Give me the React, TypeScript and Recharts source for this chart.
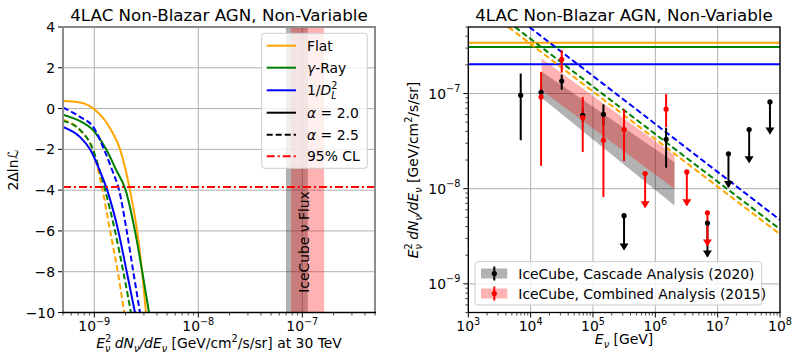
import {
  ComposedChart,
  Line,
  Area,
  Scatter,
  ErrorBar,
  XAxis,
  YAxis,
  CartesianGrid,
  ReferenceArea,
  ReferenceLine,
} from "recharts";

const FONT = "'DejaVu Sans', sans-serif";
const ORANGE = "#ffa500";
const GREEN = "#008000";
const BLUE = "#0000ff";
const RED = "#ff0000";
const FS = 13.9;
const FS_SMALL = 9.7;

// ---- left panel: 2ΔlnL vs E²dN/dE at 30 TeV ----
// [flux, 2ΔlnL]
const flatA20 = [[5e-10, 0.37], [7.3e-10, 0.3], [9.8e-10, 0], [1.43e-9, -1], [1.77e-9, -2], [2.0e-9, -3], [2.2e-9, -4], [2.58e-9, -6], [2.88e-9, -8], [3.14e-9, -10]];
const flatA25 = [[5e-10, -0.55], [7.3e-10, -1.07], [9.6e-10, -2], [1.085e-9, -3], [1.2e-9, -4], [1.42e-9, -6], [1.68e-9, -8], [1.94e-9, -10]];
const gammaA20 = [[5e-10, -0.3], [7.3e-10, -0.62], [9.5e-10, -1], [1.3e-9, -2], [1.62e-9, -3], [2.0e-9, -4], [2.46e-9, -6], [2.89e-9, -8], [3.36e-9, -10]];
const gammaA25 = [[5e-10, -0.61], [7.3e-10, -1.05], [9.7e-10, -2], [1.12e-9, -3], [1.27e-9, -4], [1.58e-9, -6], [1.9e-9, -8], [2.25e-9, -10]];
const dlA20 = [[5e-10, -0.9], [7.3e-10, -1.4], [9.1e-10, -2], [1.12e-9, -3], [1.33e-9, -4], [1.7e-9, -6], [2.05e-9, -8], [2.46e-9, -10]];
const dlA25 = [[5e-10, 0.05], [7.3e-10, -0.41], [1.0e-9, -0.98], [1.24e-9, -2], [1.48e-9, -3], [1.73e-9, -4], [2.05e-9, -6], [2.37e-9, -8], [2.75e-9, -10]];
const cascadeAt30 = [6.97e-8, 1.13e-7];
const combinedAt30 = [7.8e-8, 1.62e-7];
const CL95 = -3.84;
const leftYTicks = [-10, -8, -6, -4, -2, 0, 2, 4];

// ---- right panel: spectrum ----
const flatConst = 3.41e-7;
const gammaConst = 3.09e-7;
const dlConst = 2.03e-7;
const flatSoft = [[4.4e3, 5e-7], [1e8, 3.32e-9]];
const gammaSoft = [[5.6e3, 5e-7], [1e8, 3.75e-9]];
const dlSoft = [[9.5e3, 5e-7], [1e8, 4.7e-9]];

const cascadeE = [6.93e3, 1.47e4, 3.15e4, 6.85e4, 1.47e5, 1.49e6];
const cascadeVal = [9.6e-8, 1.03e-7, 1.35e-7, 5.91e-8, 6.05e-8, 3.3e-8];
const cascadeLo = [3.23e-8, 8.8e-8, 1.1e-7, 5.0e-8, 4.6e-8, 1.66e-8];
const cascadeHi = [1.62e-7, 1.2e-7, 1.58e-7, 7.0e-8, 7.7e-8, 4.38e-8];
const cascadeUlE = [3.15e5, 6.86e6, 1.49e7, 3.2e7, 6.9e7];
const cascadeUl = [5.2e-9, 4.35e-9, 2.33e-8, 4.18e-8, 8.16e-8];
const cascadeUlTip = [2.3e-9, 1.94e-9, 1.04e-8, 1.9e-8, 3.79e-8];

const combinedE = [1.47e4, 3.15e4, 6.85e4, 1.47e5, 3.15e5, 1.49e6];
const combinedVal = [9.2e-8, 2.28e-7, 5.58e-8, 3.22e-8, 4.21e-8, 6.84e-8];
const combinedLo = [1.74e-8, 1.66e-7, 2.43e-8, 8.17e-9, 1.95e-8, 4.45e-8];
const combinedHi = [1.69e-7, 2.86e-7, 9.2e-8, 5.9e-8, 6.84e-8, 9.84e-8];
const combinedUlE = [6.86e5, 3.2e6, 6.86e6];
const combinedUl = [1.44e-8, 1.5e-8, 5.58e-9];
const combinedUlTip = [6.4e-9, 6.7e-9, 2.53e-9];

const bandE = [1.5e4, 2.03e6];
const cascadeBandLo = [9.0e-8, 6.67e-9];
const cascadeBandHi = [1.69e-7, 1.9e-8];
const combinedBandLo = [1.08e-7, 1.0e-8];
const combinedBandHi = [2.33e-7, 2.24e-8];

const toXY = (pts: number[][]) => pts.map(([x, y]) => ({ x, y }));
const points = (e: number[], v: number[], lo: number[], hi: number[]) =>
  e.map((x, i) => ({ x, y: v[i], err: [v[i] - lo[i], hi[i] - v[i]] }));
const limits = (e: number[], v: number[], tip: number[]) =>
  e.map((x, i) => ({ x, y: v[i], err: [v[i] - tip[i], 0] }));
const tips = (e: number[], tip: number[]) => e.map((x, i) => ({ x, y: tip[i] }));
const band = (lo: number[], hi: number[]) => bandE.map((x, i) => ({ x, band: [lo[i], hi[i]] }));

const logTicks = (lo: number, hi: number) => {
  const out: number[] = [];
  for (let e = Math.floor(Math.log10(lo)); e <= Math.ceil(Math.log10(hi)); e++)
    for (let m = 1; m < 10; m++) {
      const v = +(m * Math.pow(10, e)).toPrecision(6);
      if (v >= lo * 0.999 && v <= hi * 1.001) out.push(v);
    }
  return out;
};
const isDecade = (v: number) => Math.abs(Math.log10(v) - Math.round(Math.log10(v))) < 1e-6;
const minus = (n: number) => (n < 0 ? "\u2212" + -n : String(n));

const LogXTick = (p: any) => {
  const { x, y, payload } = p;
  const v = payload.value;
  const major = isDecade(v);
  return (
    <g>
      <line x1={x} x2={x} y1={y} y2={y + (major ? 5 : 3)} stroke="#000" strokeWidth={major ? 1 : 0.7} />
      {major && (
        <text x={x} y={y + 18} textAnchor="middle" fontSize={FS} fontFamily={FONT} fill="#000">
          10<tspan dy={-6} fontSize={FS_SMALL}>{minus(Math.round(Math.log10(v)))}</tspan>
        </text>
      )}
    </g>
  );
};

const LogYTick = (p: any) => {
  const { x, y, payload } = p;
  const v = payload.value;
  const major = isDecade(v);
  return (
    <g>
      <line x1={x - (major ? 5 : 3)} x2={x} y1={y} y2={y} stroke="#000" strokeWidth={major ? 1 : 0.7} />
      {major && (
        <text x={x - 8} y={y + 5} textAnchor="end" fontSize={FS} fontFamily={FONT} fill="#000">
          10<tspan dy={-6.5} fontSize={FS_SMALL}>{minus(Math.round(Math.log10(v)))}</tspan>
        </text>
      )}
    </g>
  );
};

const LinYTick = (p: any) => {
  const { x, y, payload } = p;
  return (
    <g>
      <line x1={x - 5} x2={x} y1={y} y2={y} stroke="#000" />
      <text x={x - 8} y={y + 5} textAnchor="end" fontSize={FS} fontFamily={FONT} fill="#000">
        {minus(payload.value)}
      </text>
    </g>
  );
};

const dot = (color: string) => (p: any) => <circle cx={p.cx} cy={p.cy} r={2.6} fill={color} />;
const arrow = (color: string) => (p: any) => (
  <path d={`M${p.cx - 4.5},${p.cy - 6}L${p.cx + 4.5},${p.cy - 6}L${p.cx},${p.cy + 1}Z`} fill={color} />
);

const axisCommon = {
  tickLine: false,
  axisLine: false,
  tickSize: 0,
  tickMargin: 0,
  interval: 0 as const,
  allowDataOverflow: true,
};

const LeftChart = () => (
  <ComposedChart width={400} height={358} margin={{ top: 27, right: 25, bottom: 5.5, left: 13 }}>
    <CartesianGrid stroke="#b0b0b0" strokeWidth={1} verticalValues={[1e-9, 1e-8, 1e-7]} horizontalValues={leftYTicks} />
    <XAxis dataKey="x" type="number" scale="log" domain={[5e-10, 5e-7]} ticks={logTicks(5e-10, 5e-7)} tick={LogXTick} height={40} {...axisCommon} />
    <YAxis dataKey="y" type="number" domain={[-10, 4]} ticks={leftYTicks} tick={LinYTick} width={50} {...axisCommon} />
    <ReferenceArea x1={cascadeAt30[0]} x2={cascadeAt30[1]} fill="#000" fillOpacity={0.3} stroke="none" />
    <ReferenceArea x1={combinedAt30[0]} x2={combinedAt30[1]} fill={RED} fillOpacity={0.3} stroke="none" />
    <Line data={toXY(flatA20)} dataKey="y" type="monotone" stroke={ORANGE} strokeWidth={2} dot={false} isAnimationActive={false} />
    <Line data={toXY(flatA25)} dataKey="y" type="monotone" stroke={ORANGE} strokeWidth={2} strokeDasharray="6 3" dot={false} isAnimationActive={false} />
    <Line data={toXY(gammaA20)} dataKey="y" type="monotone" stroke={GREEN} strokeWidth={2} dot={false} isAnimationActive={false} />
    <Line data={toXY(gammaA25)} dataKey="y" type="monotone" stroke={GREEN} strokeWidth={2} strokeDasharray="6 3" dot={false} isAnimationActive={false} />
    <Line data={toXY(dlA20)} dataKey="y" type="monotone" stroke={BLUE} strokeWidth={2} dot={false} isAnimationActive={false} />
    <Line data={toXY(dlA25)} dataKey="y" type="monotone" stroke={BLUE} strokeWidth={2} strokeDasharray="6 3" dot={false} isAnimationActive={false} />
    <ReferenceLine y={CL95} stroke={RED} strokeWidth={2} strokeDasharray="8 3 2 3" />
  </ComposedChart>
);

const RightChart = () => (
  <ComposedChart width={401} height={358} margin={{ top: 27, right: 21, bottom: 5.5, left: 13.3 }}>
    <CartesianGrid stroke="#b0b0b0" strokeWidth={1} verticalValues={[1e3, 1e4, 1e5, 1e6, 1e7, 1e8]} horizontalValues={[1e-9, 1e-8, 1e-7]} />
    <XAxis dataKey="x" type="number" scale="log" domain={[1e3, 1e8]} ticks={logTicks(1e3, 1e8)} tick={LogXTick} height={40} {...axisCommon} />
    <YAxis dataKey="y" type="number" scale="log" domain={[5e-10, 5e-7]} ticks={logTicks(5e-10, 5e-7)} tick={LogYTick} width={55} {...axisCommon} />
    <Area data={band(cascadeBandLo, cascadeBandHi)} dataKey="band" type="linear" stroke="none" fill="#000" fillOpacity={0.3} isAnimationActive={false} />
    <Area data={band(combinedBandLo, combinedBandHi)} dataKey="band" type="linear" stroke="none" fill={RED} fillOpacity={0.3} isAnimationActive={false} />
    <Line data={toXY([[1e3, flatConst], [1e8, flatConst]])} dataKey="y" type="linear" stroke={ORANGE} strokeWidth={2} dot={false} isAnimationActive={false} />
    <Line data={toXY([[1e3, gammaConst], [1e8, gammaConst]])} dataKey="y" type="linear" stroke={GREEN} strokeWidth={2} dot={false} isAnimationActive={false} />
    <Line data={toXY([[1e3, dlConst], [1e8, dlConst]])} dataKey="y" type="linear" stroke={BLUE} strokeWidth={2} dot={false} isAnimationActive={false} />
    <Line data={toXY(flatSoft)} dataKey="y" type="linear" stroke={ORANGE} strokeWidth={2} strokeDasharray="6 3" dot={false} isAnimationActive={false} />
    <Line data={toXY(gammaSoft)} dataKey="y" type="linear" stroke={GREEN} strokeWidth={2} strokeDasharray="6 3" dot={false} isAnimationActive={false} />
    <Line data={toXY(dlSoft)} dataKey="y" type="linear" stroke={BLUE} strokeWidth={2} strokeDasharray="6 3" dot={false} isAnimationActive={false} />
    <Scatter data={points(cascadeE, cascadeVal, cascadeLo, cascadeHi)} shape={dot("#000")} isAnimationActive={false}>
      <ErrorBar dataKey="err" direction="y" width={0} stroke="#000" strokeWidth={2} />
    </Scatter>
    <Scatter data={limits(cascadeUlE, cascadeUl, cascadeUlTip)} shape={dot("#000")} isAnimationActive={false}>
      <ErrorBar dataKey="err" direction="y" width={0} stroke="#000" strokeWidth={2} />
    </Scatter>
    <Scatter data={tips(cascadeUlE, cascadeUlTip)} shape={arrow("#000")} isAnimationActive={false} />
    <Scatter data={points(combinedE, combinedVal, combinedLo, combinedHi)} shape={dot(RED)} isAnimationActive={false}>
      <ErrorBar dataKey="err" direction="y" width={0} stroke={RED} strokeWidth={2} />
    </Scatter>
    <Scatter data={limits(combinedUlE, combinedUl, combinedUlTip)} shape={dot(RED)} isAnimationActive={false}>
      <ErrorBar dataKey="err" direction="y" width={0} stroke={RED} strokeWidth={2} />
    </Scatter>
    <Scatter data={tips(combinedUlE, combinedUlTip)} shape={arrow(RED)} isAnimationActive={false} />
  </ComposedChart>
);

// E_ν² dN_ν/dE_ν [GeV/cm²/s/sr]
const FluxLabel = () => (
  <>
    <tspan fontStyle="italic">E</tspan>
    <tspan dy={-6} fontSize={FS_SMALL}>2</tspan>
    <tspan dx={-6.2} dy={10} fontSize={FS_SMALL} fontStyle="italic">ν</tspan>
    <tspan dy={-4} fontStyle="italic"> dN</tspan>
    <tspan dy={4} fontSize={FS_SMALL} fontStyle="italic">ν</tspan>
    <tspan dy={-4} fontStyle="italic">/dE</tspan>
    <tspan dy={4} fontSize={FS_SMALL} fontStyle="italic">ν</tspan>
    <tspan dy={-4}> [GeV/cm</tspan>
    <tspan dy={-6} fontSize={FS_SMALL}>2</tspan>
    <tspan dy={6}>/s/sr]</tspan>
  </>
);

const leftLegend = [
  { c: ORANGE, d: undefined, label: <tspan>Flat</tspan> },
  { c: GREEN, d: undefined, label: <><tspan fontStyle="italic">γ</tspan><tspan>-Ray</tspan></> },
  {
    c: BLUE,
    d: undefined,
    label: (
      <>
        <tspan>1/</tspan>
        <tspan fontStyle="italic">D</tspan>
        <tspan dy={-6} fontSize={FS_SMALL}>2</tspan>
        <tspan dx={-6.2} dy={10} fontSize={FS_SMALL} fontStyle="italic">L</tspan>
      </>
    ),
  },
  { c: "#000", d: undefined, label: <><tspan fontStyle="italic">α</tspan><tspan> = 2.0</tspan></> },
  { c: "#000", d: "6 3", label: <><tspan fontStyle="italic">α</tspan><tspan> = 2.5</tspan></> },
  { c: RED, d: "8 3 2 3", label: <tspan>95% CL</tspan> },
];
const leftLegendY = [45.7, 67.7, 90.3, 112.7, 134.7, 156.2];

const Overlay = () => (
  <svg width={801} height={358} style={{ position: "absolute", left: 0, top: 0, pointerEvents: "none" }} fontFamily={FONT} fontSize={FS}>
    {/* frames */}
    <path d="M63,312.5V27H375V312.5" fill="none" stroke="#8c8c8c" strokeWidth={2} />
    <line x1={62} x2={376} y1={312.5} y2={312.5} stroke="#000" strokeWidth={1.3} />
    <rect x={468.3} y={27} width={311.7} height={285.5} fill="none" stroke="#000" strokeWidth={1.3} />

    {/* titles */}
    <text x={219} y={20.5} textAnchor="middle" fontSize={16.7}>4LAC Non-Blazar AGN, Non-Variable</text>
    <text x={624} y={20.5} textAnchor="middle" fontSize={16.7}>4LAC Non-Blazar AGN, Non-Variable</text>

    {/* axis labels */}
    <text x={219} y={347.5} textAnchor="middle" style={{ whiteSpace: "pre" }}>
      <FluxLabel />
      <tspan> at 30 TeV</tspan>
    </text>
    <text x={18} y={170} textAnchor="middle" transform="rotate(-90 18 170)">2Δlnℒ</text>
    <text x={418} y={170} textAnchor="middle" transform="rotate(-90 418 170)" style={{ whiteSpace: "pre" }}>
      <FluxLabel />
    </text>
    <text x={624} y={344} textAnchor="middle" style={{ whiteSpace: "pre" }}>
      <tspan fontStyle="italic">E</tspan>
      <tspan dy={4} fontSize={FS_SMALL} fontStyle="italic">ν</tspan>
      <tspan dy={-4}> [GeV]</tspan>
    </text>
    <text x={309} y={242} textAnchor="middle" transform="rotate(-90 309 242)">IceCube ν Flux</text>

    {/* left legend */}
    <rect x={261.7} y={33.3} width={105.6} height={135} rx={3} fill="#fff" fillOpacity={0.8} stroke="#cccccc" />
    {leftLegend.map((it, i) => (
      <g key={i}>
        <line x1={266.7} x2={296} y1={leftLegendY[i]} y2={leftLegendY[i]} stroke={it.c} strokeWidth={2} strokeDasharray={it.d} />
        <text x={307} y={leftLegendY[i] + 5} style={{ whiteSpace: "pre" }}>{it.label}</text>
      </g>
    ))}

    {/* right legend */}
    <rect x={475} y={261.7} width={286.7} height={43.3} rx={3} fill="#fff" fillOpacity={0.8} stroke="#cccccc" />
    {[
      { c: "#000", label: "IceCube, Cascade Analysis (2020)", y: 273.5 },
      { c: RED, label: "IceCube, Combined Analysis (2015)", y: 293.5 },
    ].map((it) => (
      <g key={it.label}>
        <rect x={481} y={it.y - 5} width={26.3} height={10} fill={it.c} fillOpacity={0.3} />
        <line x1={494.3} x2={494.3} y1={it.y - 7} y2={it.y + 7} stroke={it.c} strokeWidth={2} />
        <circle cx={494.3} cy={it.y} r={2.6} fill={it.c} />
        <text x={518.3} y={it.y + 5}>{it.label}</text>
      </g>
    ))}
  </svg>
);

export default function App() {
  return (
    <div style={{ position: "absolute", left: 0, top: 0, width: 801, height: 358, background: "#fff" }}>
      <div style={{ position: "absolute", left: 0, top: 0 }}>
        <LeftChart />
      </div>
      <div style={{ position: "absolute", left: 400, top: 0 }}>
        <RightChart />
      </div>
      <Overlay />
    </div>
  );
}
